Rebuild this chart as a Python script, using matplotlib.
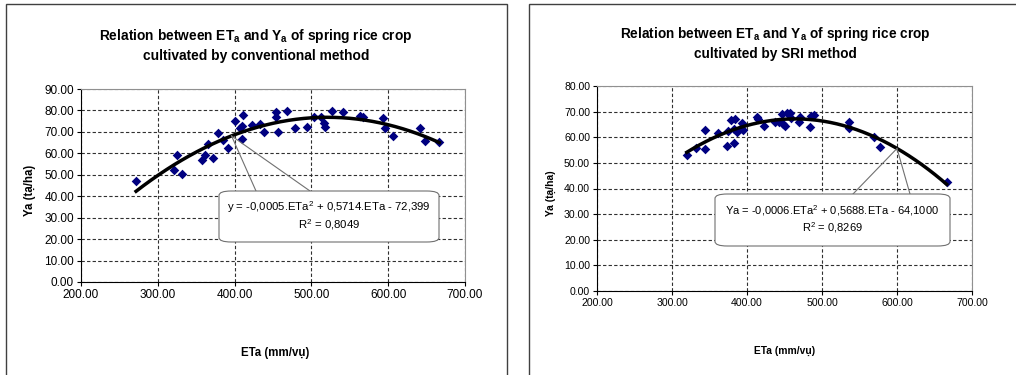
import numpy as np
import matplotlib.pyplot as plt
from matplotlib.patches import FancyBboxPatch, Rectangle
from matplotlib.lines import Line2D

plt.rcParams['font.family'] = ['Liberation Sans', 'DejaVu Sans']

# du lieu doc tu hinh: canh tac truyen thong
eta_conv = [271.7, 320.9, 325.2, 331.7, 357.0, 361.7, 365.2, 371.3, 377.8, 384.8,
            390.9, 400.9, 407.4, 409.1, 409.6, 411.3, 423.0, 433.5, 438.3, 454.3,
            454.3, 456.1, 468.7, 478.7, 494.8, 503.0, 512.2, 516.5, 518.3, 526.5,
            541.7, 563.0, 567.4, 593.5, 595.2, 606.5, 641.7, 647.4, 666.5]
ya_conv = [47.3, 52.1, 59.1, 50.5, 56.8, 59.4, 64.5, 57.7, 69.5, 66.3,
           62.5, 75.0, 71.9, 72.9, 66.9, 77.8, 73.3, 73.9, 69.8, 79.3,
           77.0, 70.0, 79.8, 71.9, 72.3, 76.8, 77.0, 74.2, 72.2, 79.8,
           79.5, 77.6, 77.0, 76.4, 71.9, 68.0, 72.0, 65.6, 65.3]

# du lieu: canh tac SRI
eta_sri = [319.7, 332.1, 344.6, 344.6, 361.0, 373.5, 374.4, 378.0, 382.8, 384.6,
           382.8, 386.8, 392.2, 393.5, 394.8, 413.5, 415.3, 422.4, 436.7, 442.0,
           446.9, 448.2, 450.4, 453.6, 456.7, 458.0, 468.7, 471.0, 483.4, 484.8,
           489.3, 535.4, 535.4, 569.2, 577.7, 666.2]
ya_sri = [53.1, 55.9, 62.8, 55.4, 61.8, 56.7, 62.6, 66.7, 63.3, 67.3,
          57.9, 61.9, 63.5, 65.7, 62.8, 68.0, 67.0, 64.5, 66.1, 65.8,
          68.9, 65.0, 64.5, 69.3, 69.3, 67.4, 65.8, 68.0, 63.9, 68.3,
          68.7, 65.8, 63.5, 60.0, 56.1, 42.7]

titles = ['Relation between ET$_\\mathregular{a}$ and Y$_\\mathregular{a}$ of spring rice crop\ncultivated by conventional method',
          'Relation between ET$_\\mathregular{a}$ and Y$_\\mathregular{a}$ of spring rice crop\ncultivated by SRI method']
eqs = ['y = -0,0005.ETa$^\\mathregular{2}$ + 0,5714.ETa - 72,399\nR$^\\mathregular{2}$ = 0,8049',
       'Ya = -0,0006.ETa$^\\mathregular{2}$ + 0,5688.ETa - 64,1000\nR$^\\mathregular{2}$ = 0,8269']

W, H = 1016, 375
fig = plt.figure(figsize=(W / 100, H / 100), dpi=100)

def fx(px):
    return px / W

def fy(py):
    return 1 - py / H

# khung cua 2 bieu do
fig.patches.append(Rectangle((fx(6), fy(400)), fx(501), fy(4) - fy(400), transform=fig.transFigure,
                             fill=False, ec='#404040', lw=1.0))
fig.patches.append(Rectangle((fx(529), fy(400)), fx(520), fy(4) - fy(400), transform=fig.transFigure,
                             fill=False, ec='#404040', lw=1.0))

panels = [
    dict(x=eta_conv, y=ya_conv, rect=[fx(81), fy(282), fx(465) - fx(81), fy(89) - fy(282)],
         ymax=90, tsize=8.5, title=titles[0], tx=256, ty=45, ylx=30, yly=190, xlx=275, xly=353,
         alsize=8.3, eq=eqs[0], box=(219, 191, 439, 242), apx=396, base=(256, 310), lsize=8.2, tfs=9.9),
    dict(x=eta_sri, y=ya_sri, rect=[fx(597), fy(291), fx(972) - fx(597), fy(86) - fy(291)],
         ymax=80, tsize=7.6, title=titles[1], tx=775, ty=43, ylx=551, yly=193, xlx=785, xly=351,
         alsize=7.4, eq=eqs[1], box=(715, 194, 950, 246), apx=600, base=(853, 910), lsize=8.0, tfs=9.8),
]

for p in panels:
    ax = fig.add_axes(p['rect'])
    ax.set_xlim(200, 700)
    ax.set_ylim(0, p['ymax'])
    ax.set_xticks(np.arange(200, 701, 100))
    ax.set_yticks(np.arange(0, p['ymax'] + 1, 10))
    ax.xaxis.set_major_formatter('{x:.2f}')
    ax.yaxis.set_major_formatter('{x:.2f}')
    ax.tick_params(labelsize=p['tsize'], length=3, direction='out', pad=2)
    ax.grid(True, ls=(0, (3, 2)), color='#303030', lw=0.8)
    for s in ['top', 'right']:
        ax.spines[s].set_color('#909090')
    for s in ['left', 'bottom']:
        ax.spines[s].set_color('black')
    ax.set_axisbelow(True)

    x = np.array(p['x'])
    y = np.array(p['y'])
    ax.scatter(x, y, marker='D', s=24, color='#000080', zorder=3, linewidths=0)
    coef = np.polyfit(x, y, 2)
    xs = np.linspace(x.min(), x.max(), 200)
    ax.plot(xs, np.polyval(coef, xs), color='black', lw=2.5, zorder=4)

    fig.text(fx(p['tx']), fy(p['ty']), p['title'], ha='center', va='center', fontsize=p['tfs'],
             fontweight='bold', linespacing=1.35)
    fig.text(fx(p['ylx']), fy(p['yly']), 'Ya (tạ/ha)', rotation=90, ha='center', va='center',
             fontsize=p['alsize'], fontweight='bold')
    fig.text(fx(p['xlx']), fy(p['xly']), 'ETa (mm/vụ)', ha='center', va='center',
             fontsize=p['alsize'], fontweight='bold')

    # callout
    x0, y0, x1, y1 = p['box']
    apex = ax.transData.transform((p['apx'], np.polyval(coef, p['apx'])))
    ap = fig.transFigure.inverted().transform(apex)
    for bx in p['base']:
        fig.lines.append(Line2D([fx(bx), ap[0]], [fy(y0), ap[1]], transform=fig.transFigure,
                                color='#707070', lw=0.8, zorder=5))
    fig.patches.append(FancyBboxPatch((fx(x0), fy(y1)), fx(x1 - x0), fy(y0) - fy(y1),
                                      boxstyle='round,pad=0,rounding_size=0.012',
                                      transform=fig.transFigure, fc='white', ec='#707070',
                                      lw=0.8, zorder=6))
    fig.text(fx((x0 + x1) / 2), fy((y0 + y1) / 2 - 1), p['eq'], ha='center', va='center',
             fontsize=p['lsize'], linespacing=1.2, zorder=7)

fig.savefig('out.png', dpi=100)
